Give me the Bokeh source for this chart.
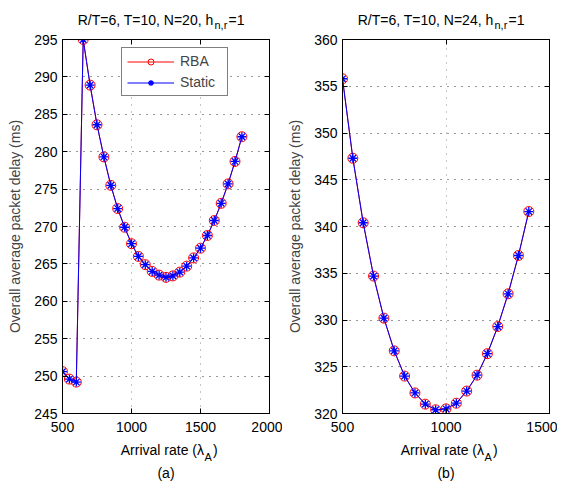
from bokeh.plotting import figure
from bokeh.models import Range1d, FixedTicker, LinearAxis, Legend, LegendItem
from bokeh.layouts import row, column
from bokeh.embed import file_html
from bokeh.resources import INLINE
from bokeh.core.properties import value

# ---------------- data ----------------
x_a = [500, 550, 600, 650, 700, 750, 800, 850, 900, 950, 1000, 1050, 1100, 1150,
       1200, 1250, 1300, 1350, 1400, 1450, 1500, 1550, 1600, 1650, 1700, 1750, 1800]
rba_a = [250.6, 249.6, 249.2, 295.0, 288.9, 283.6, 279.3, 275.5, 272.4, 269.9,
         267.7, 266.0, 264.9, 264.0, 263.5, 263.2, 263.4, 263.9, 264.7, 265.8,
         267.1, 268.8, 270.8, 273.1, 275.7, 278.7, 282.0]
static_a = [250.6, 249.6, 249.2, 295.0, 288.9, 283.6, 279.3, 275.5, 272.4, 269.9,
            267.7, 266.0, 264.9, 264.0, 263.5, 263.2, 263.4, 263.9, 264.7, 265.8,
            267.1, 268.8, 270.8, 273.1, 275.7, 278.7, 282.0]

x_b = [500, 550, 600, 650, 700, 750, 800, 850, 900, 950, 1000, 1050, 1100, 1150,
       1200, 1250, 1300, 1350, 1400]
rba_b = [355.8, 347.3, 340.4, 334.7, 330.2, 326.7, 324.0, 322.2, 321.0, 320.4,
         320.5, 321.1, 322.4, 324.1, 326.4, 329.3, 332.8, 336.9, 341.6]
static_b = [355.8, 347.3, 340.4, 334.7, 330.2, 326.7, 324.0, 322.2, 321.0, 320.4,
            320.5, 321.1, 322.4, 324.1, 326.4, 329.3, 332.8, 336.9, 341.6]

xticks_a = [500, 1000, 1500, 2000]
yticks_a = [245, 250, 255, 260, 265, 270, 275, 280, 285, 290, 295]
xticks_b = [500, 1000, 1500]
yticks_b = [320, 325, 330, 335, 340, 345, 350, 355, 360]

title_a = ["R/T=6, T=10, N=20, h", "n,r", "=1"]
title_b = ["R/T=6, T=10, N=24, h", "n,r", "=1"]
xlabel = ["Arrival rate (\u03bb", "A", ")"]
ylabel = "Overall average packet delay (ms)"
captions = ["(a)", "(b)"]
series_names = ["RBA", "Static"]

FONT = "Liberation Sans"
FS = "14px"


def style_axis(ax, ticks, show_labels=True):
    ax.ticker = FixedTicker(ticks=ticks)
    ax.major_tick_in = 5
    ax.major_tick_out = 0
    ax.minor_tick_in = 0
    ax.minor_tick_out = 0
    ax.minor_tick_line_color = None
    ax.axis_line_color = "black"
    ax.major_tick_line_color = "black"
    ax.major_label_text_font = FONT
    ax.major_label_text_color = "black"
    if show_labels:
        ax.major_label_text_font_size = FS
        ax.major_label_standoff = 5
    else:
        ax.major_label_text_font_size = "0px"
        ax.major_label_text_alpha = 0
        ax.major_label_standoff = 0


def text_fig(xr, width, height, bl, br):
    t = figure(width=width, height=height, x_range=xr, y_range=Range1d(0, height),
               output_backend="svg", toolbar_location=None,
               x_axis_type=None, y_axis_type=None,
               min_border_left=bl, min_border_right=br,
               min_border_top=0, min_border_bottom=0)
    t.outline_line_color = None
    t.background_fill_color = "white"
    t.border_fill_color = "white"
    t.grid.visible = False
    return t


def put(t, x, y, s, align, dx, size=FS, baseline="alphabetic"):
    t.text(x=[x], y=[y], text=[s], text_align=align, text_baseline=baseline,
           x_offset=dx, text_font=value(FONT), text_font_size=size,
           text_color="black")


def make(xs, y1, y2, xr, yr, xt, yt, title, caption, bl, br, legend):
    width = bl + 207 + br
    p = figure(width=width, height=407, x_range=Range1d(*xr), y_range=Range1d(*yr),
               output_backend="svg", toolbar_location=None,
               min_border_left=bl, min_border_right=br,
               min_border_top=8, min_border_bottom=25)
    p.background_fill_color = "white"
    p.border_fill_color = "white"
    p.outline_line_color = "black"
    p.outline_line_width = 1

    style_axis(p.xaxis[0], xt)
    style_axis(p.yaxis[0], yt)
    p.yaxis[0].axis_label = ylabel
    p.yaxis[0].axis_label_text_font = FONT
    p.yaxis[0].axis_label_text_font_size = FS
    p.yaxis[0].axis_label_text_font_style = "normal"
    p.yaxis[0].axis_label_standoff = 8
    p.xaxis[0].major_label_standoff = 8

    top = LinearAxis()
    style_axis(top, xt, show_labels=False)
    p.add_layout(top, "above")
    right = LinearAxis()
    style_axis(right, yt, show_labels=False)
    p.add_layout(right, "right")

    p.xgrid.ticker = FixedTicker(ticks=xt)
    p.ygrid.ticker = FixedTicker(ticks=yt)
    p.xgrid.grid_line_color = "#8a8a8a"
    p.ygrid.grid_line_color = "#333333"
    p.xgrid.grid_line_dash = "1 6"
    p.ygrid.grid_line_dash = "1 6"

    r1 = p.line(xs, y1, line_color="red", line_width=1)
    c1 = p.scatter(xs, y1, marker="circle", size=10, fill_color=None,
                   line_color="red", line_width=1)
    r2 = p.line(xs, y2, line_color="blue", line_width=1)
    c2 = p.scatter(xs, y2, marker="asterisk", size=9, line_color="blue",
                   line_width=1.3)

    if legend:
        lg = Legend(items=[LegendItem(label=series_names[0], renderers=[r1, c1]),
                           LegendItem(label=series_names[1], renderers=[r2, c2])],
                    location=(59, 317), border_line_color="black", border_line_width=1,
                    padding=5, spacing=5, glyph_width=47, glyph_height=15,
                    label_height=15, label_width=42, label_standoff=6,
                    label_text_font=FONT, label_text_font_size=FS,
                    background_fill_color="white", background_fill_alpha=1, margin=0)
        p.add_layout(lg)

    xc = (xr[0] + xr[1]) / 2.0
    # title (above)
    t = text_fig(p.x_range, width, 31, bl, br)
    put(t, xc, 12, title[0], "right", 47.5)
    put(t, xc, 7, title[1], "left", 48.5, size="11px")
    put(t, xc, 12, title[2], "left", 62.5)
    # x label and caption (below)
    b = text_fig(p.x_range, width, 44, bl, br)
    put(b, xc, 32.7, xlabel[0], "right", 38)
    put(b, xc, 25.3, xlabel[1], "left", 38.5, size="11px")
    put(b, xc, 32.7, xlabel[2], "left", 47)
    put(b, xc, 9.5, caption, "center", 0, baseline="middle")
    return t, p, b


t1, p1, b1 = make(x_a, rba_a, static_a, (500, 2000), (245, 295), xticks_a, yticks_a,
                  title_a, captions[0], 62, 13, True)
t2, p2, b2 = make(x_b, rba_b, static_b, (500, 1500), (320, 360), xticks_b, yticks_b,
                  title_b, captions[1], 60, 8, False)

layout = column(row(t1, t2), row(p1, p2), row(b1, b2))
open("out.html", "w").write(file_html(layout, INLINE))
